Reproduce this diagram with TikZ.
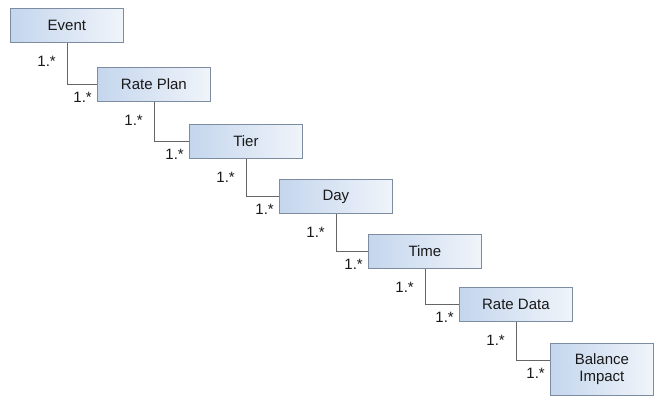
\documentclass[tikz,border=0pt]{standalone}
\usepackage{fontspec}
\setmainfont{Liberation Sans}

\begin{document}
\begin{tikzpicture}[x = 1pt, y = -1pt,
	class/.style = {draw = {rgb,255:red,125;green,140;blue,160}, line width = 0.8pt,
		left color = {rgb,255:red,196;green,214;blue,237}, right color = {rgb,255:red,240;green,244;blue,250},
		minimum width = 113pt, minimum height = 34pt, anchor = north west, inner sep = 0pt,
		font = \fontsize{15}{17}\selectfont, text = black!90},
	link/.style = {draw = black!60, line width = 0.9pt},
	mult/.style = {inner sep = 0pt, font = \fontsize{15}{17}\selectfont, text = black!90}]

	% Definitions

	\def\dx{57}		% Offset of connector from left side of class
	\def\dy{17}		% Height of connector below top of class

	\useasboundingbox (0, 0) rectangle (654, 396);

	% Draw classes

	\foreach \n/\x/\y/\t in {event/10/8/Event, plan/97/67/Rate Plan, tier/189/124/Tier,
		day/279/179/Day, time/368/234/Time, data/459/287/Rate Data}
		\node [class] (\n) at (\x, \y) {\t};

	\node [class, minimum width = 103pt, minimum height = 52pt, align = center] (impact) at (550, 343) {Balance\\Impact};

	% Draw associations with multiplicities

	\foreach \a/\b in {event/plan, plan/tier, tier/day, day/time, time/data, data/impact} {
		\draw [link] ([xshift = \dx pt] \a.south west) |- ([yshift = -\dy pt] \b.north west);
		\node [mult, anchor = east] (\a-m) at ([xshift = {(\dx - 11) * 1pt}, yshift = -19pt] \a.south west) {1.*};
		\node [mult, anchor = east] (\b-m) at ([xshift = -5pt, yshift = {-(\dy + 13) * 1pt}] \b.north west) {1.*};
	}

\end{tikzpicture}
\end{document}
